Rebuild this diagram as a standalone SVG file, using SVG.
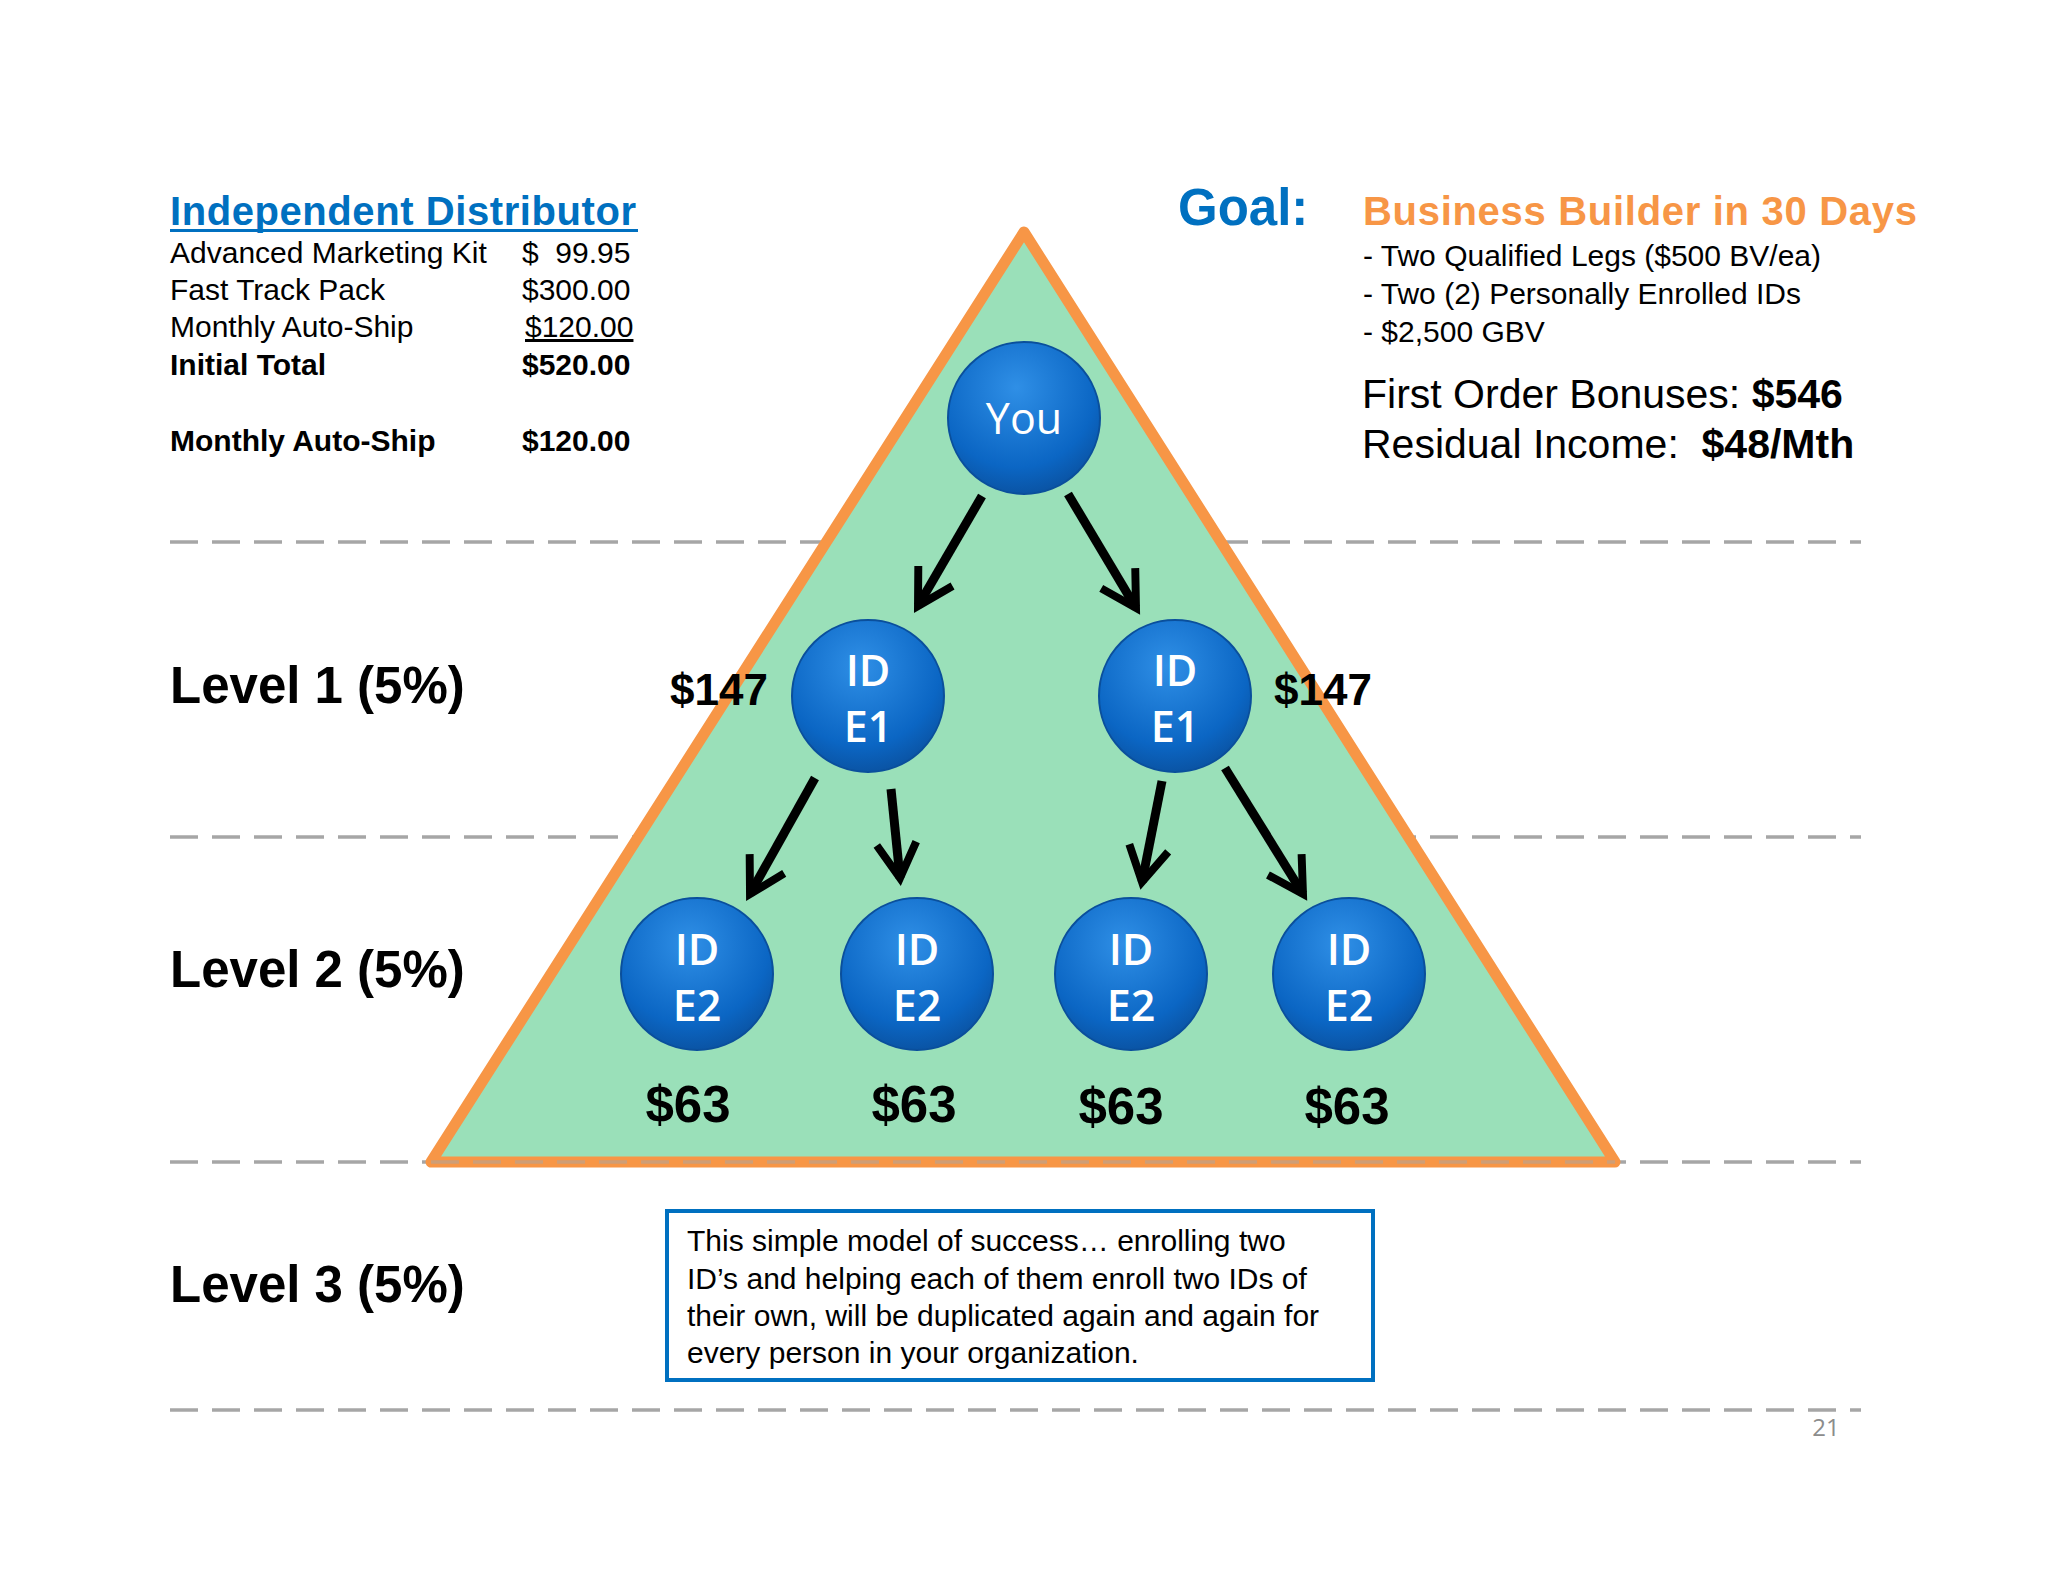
<svg xmlns="http://www.w3.org/2000/svg" width="2048" height="1582" viewBox="0 0 2048 1582">
<defs>
<radialGradient id="g" cx="0.45" cy="0.3" r="0.75">
<stop offset="0" stop-color="#2f8fe6"/><stop offset="0.7" stop-color="#0b66c4"/><stop offset="1" stop-color="#0a4f9c"/>
</radialGradient>
<marker id="ah" viewBox="0 0 10 10" refX="8" refY="5" markerWidth="5.5" markerHeight="5.5" orient="auto" markerUnits="strokeWidth">
<path d="M1,1 L8,5 L1,9" fill="none" stroke="#000" stroke-width="1.6"/>
</marker>
<style>
.dash{stroke:#a6a6a6;stroke-width:3.5;stroke-dasharray:28,14;fill:none}
.t{font-family:"Liberation Sans",Arial,sans-serif;fill:#000}
.c{fill:url(#g);stroke:#0a4f9c;stroke-width:2}
.ct{font-family:"Open Sans","DejaVu Sans",sans-serif;fill:#fff;font-size:43px;font-weight:600;text-anchor:middle}
.a{stroke:#000;stroke-width:9;fill:none;marker-end:url(#ah)}
</style>
</defs>
<rect width="2048" height="1582" fill="#fff"/>
<g id="guides">
<line class="dash" x1="170" y1="542" x2="1861" y2="542"/>
<line class="dash" x1="170" y1="837" x2="1861" y2="837"/>
<line class="dash" x1="170" y1="1162" x2="1861" y2="1162"/>
<line class="dash" x1="170" y1="1410" x2="1861" y2="1410"/>
</g>
<g id="triangle">
<polygon points="1024,232 431,1162 1615,1162" fill="#9ae0b9" stroke="#f79646" stroke-width="11" stroke-linejoin="round"/>
<line class="dash" x1="431" y1="1162" x2="1615" y2="1162" opacity="0.5"/>
</g>
<g id="left-text" class="t">
<text x="170" y="225" font-size="40" font-weight="bold" style="fill:#0070c0" textLength="466">Independent Distributor</text>
<rect x="170" y="229" width="468" height="3" fill="#0070c0"/>
<g font-size="30">
<text x="170" y="263">Advanced Marketing Kit</text><text x="522" y="263" xml:space="preserve">$  99.95</text>
<text x="170" y="300">Fast Track Pack</text><text x="522" y="300">$300.00</text>
<text x="170" y="337">Monthly Auto-Ship</text><text x="525" y="337" text-decoration="underline">$120.00</text>
<text x="170" y="375" font-weight="bold">Initial Total</text><text x="522" y="375" font-weight="bold">$520.00</text>
<text x="170" y="451" font-weight="bold">Monthly Auto-Ship</text><text x="522" y="451" font-weight="bold">$120.00</text>
</g>
<g font-size="51" font-weight="bold">
<text x="170" y="703">Level 1 (5%)</text>
<text x="170" y="987">Level 2 (5%)</text>
<text x="170" y="1302">Level 3 (5%)</text>
</g>
</g>
<g id="goal" class="t">
<text x="1178" y="225" font-size="51" font-weight="bold" style="fill:#0070c0">Goal:</text>
<text x="1363" y="225" font-size="40" font-weight="bold" style="fill:#f79646" textLength="554">Business Builder in 30 Days</text>
<g font-size="30">
<text x="1363" y="266">- Two Qualified Legs ($500 BV/ea)</text>
<text x="1363" y="304">- Two (2) Personally Enrolled IDs</text>
<text x="1363" y="342">- $2,500 GBV</text>
</g>
<g font-size="41">
<text x="1362" y="408">First Order Bonuses: <tspan font-weight="bold">$546</tspan></text>
<text x="1362" y="458" xml:space="preserve">Residual Income:  <tspan font-weight="bold">$48/Mth</tspan></text>
</g>
</g>
<g id="connectors">
<line class="a" x1="982" y1="496" x2="918" y2="606"/>
<line class="a" x1="1068" y1="494" x2="1136" y2="608"/>
<line class="a" x1="815" y1="778" x2="750" y2="894"/>
<line class="a" x1="891" y1="789" x2="900" y2="878"/>
<line class="a" x1="1162" y1="781" x2="1142" y2="882"/>
<line class="a" x1="1225" y1="768" x2="1303" y2="894"/>
</g>
<g id="you"><circle class="c" cx="1024" cy="418" r="76"/><text class="ct" x="1024" y="434" font-weight="normal" style="font-weight:400">You</text></g>
<g id="e1a"><circle class="c" cx="868" cy="696" r="76"/><text class="ct" x="868" y="686">ID</text><text class="ct" x="868" y="742">E1</text></g>
<g id="e1b"><circle class="c" cx="1175" cy="696" r="76"/><text class="ct" x="1175" y="686">ID</text><text class="ct" x="1175" y="742">E1</text></g>
<g id="e2a"><circle class="c" cx="697" cy="974" r="76"/><text class="ct" x="697" y="965">ID</text><text class="ct" x="697" y="1021">E2</text></g>
<g id="e2b"><circle class="c" cx="917" cy="974" r="76"/><text class="ct" x="917" y="965">ID</text><text class="ct" x="917" y="1021">E2</text></g>
<g id="e2c"><circle class="c" cx="1131" cy="974" r="76"/><text class="ct" x="1131" y="965">ID</text><text class="ct" x="1131" y="1021">E2</text></g>
<g id="e2d"><circle class="c" cx="1349" cy="974" r="76"/><text class="ct" x="1349" y="965">ID</text><text class="ct" x="1349" y="1021">E2</text></g>
<g id="amounts" class="t" font-weight="bold" text-anchor="middle">
<text x="719" y="705" font-size="44">$147</text>
<text x="1323" y="705" font-size="44">$147</text>
<text x="688" y="1122" font-size="51">$63</text>
<text x="914" y="1122" font-size="51">$63</text>
<text x="1121" y="1124" font-size="51">$63</text>
<text x="1347" y="1124" font-size="51">$63</text>
</g>
<g id="note">
<rect x="667" y="1211" width="706" height="169" fill="#fff" stroke="#0070c0" stroke-width="4"/>
<g class="t" font-size="30">
<text x="687" y="1251">This simple model of success… enrolling two</text>
<text x="687" y="1289">ID’s and helping each of them enroll two IDs of</text>
<text x="687" y="1326">their own, will be duplicated again and again for</text>
<text x="687" y="1363">every person in your organization.</text>
</g>
</g>
<text x="1826" y="1436" font-family="'Open Sans',sans-serif" font-size="24" fill="#8c8c8c" text-anchor="middle">21</text>
</svg>
